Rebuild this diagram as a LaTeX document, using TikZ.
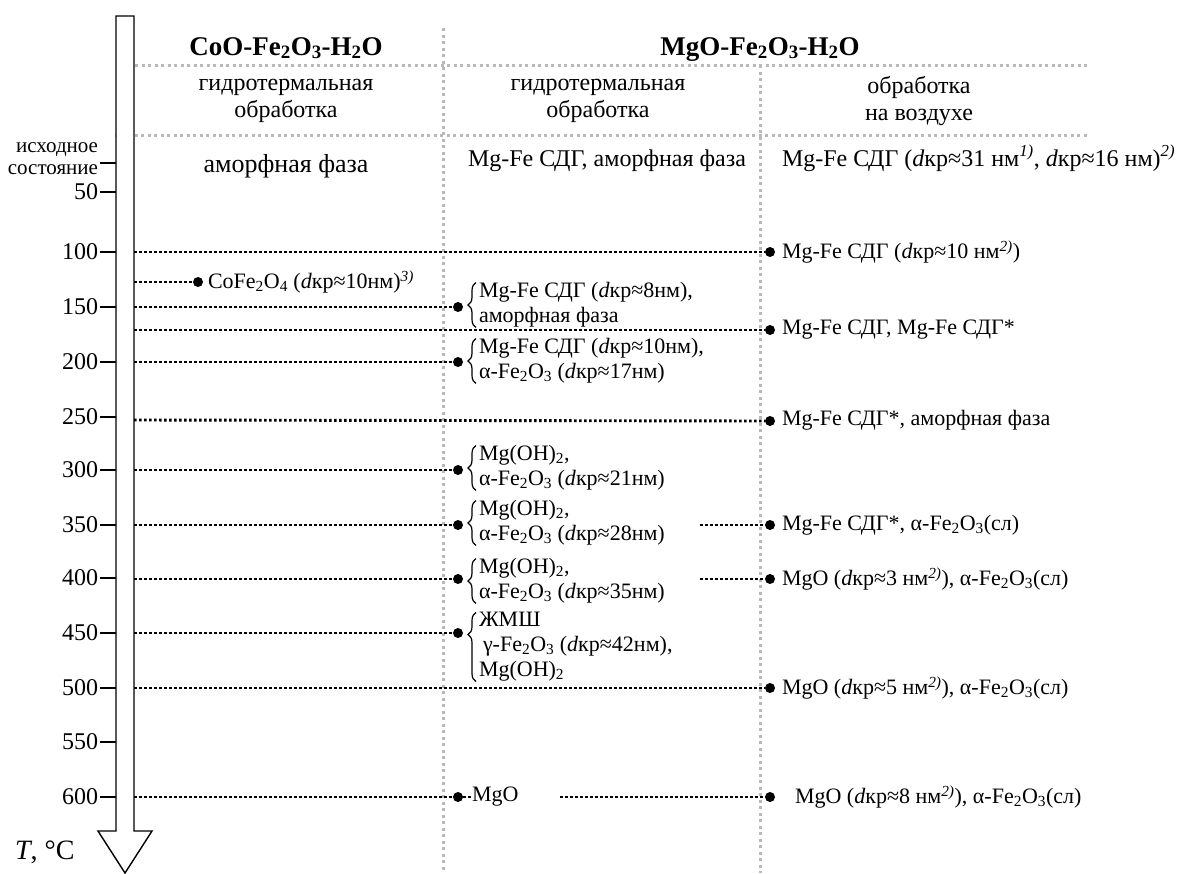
\documentclass[tikz,border=0pt]{standalone}
\usepackage{fontspec}
\setmainfont{Liberation Serif}
\usetikzlibrary{decorations.pathreplacing}
\newcommand{\mydk}{\textit{d}кр}
\newcommand{\myfe}{Fe\textsubscript{2}O\textsubscript{3}}
\newcommand{\mynt}[1]{\textsuperscript{\textit{#1)}}}
\begin{document}
\begin{tikzpicture}[x=1pt,y=-1pt,
  every node/.style={inner sep=0pt, outer sep=0pt},
  body/.style={font=\fontsize{22}{25}\selectfont},
  big/.style={font=\fontsize{24}{27}\selectfont},
  small/.style={font=\fontsize{21}{22}\selectfont},
  hdr/.style={font=\fontsize{27}{30}\selectfont\bfseries},
  greyline/.style={draw=gray!55, line width=3pt, dash pattern=on 3pt off 3.5pt},
  lvl/.style={line width=2.9pt, dash pattern=on 2.7pt off 2.3pt},
  pt/.style={circle, fill=black, minimum size=10pt},
  tickline/.style={line width=1.4pt},
  br/.style={decorate, decoration={brace, amplitude=8pt}, line width=1.2pt},
  txt/.style={body, anchor=west, align=left}]
\useasboundingbox (0,0) rectangle (1177,873);

% grey grid
\draw[greyline] (443,28) -- (443,873);
\draw[greyline] (760,65) -- (760,873);
\draw[greyline] (135,65) -- (1090,65);
\draw[greyline] (115,135) -- (1090,135);

% temperature arrow
\draw[line width=1.4pt, fill=white] (116,16) -- (134,16) -- (134,831) -- (152,831)
  -- (125,873) -- (98,831) -- (116,831) -- cycle;

% headers
\node[hdr, anchor=base] (h1) at (286,55) {CoO-\myfe-H\textsubscript{2}O};
\node[hdr, anchor=base] (h2) at (760,55) {MgO-\myfe-H\textsubscript{2}O};
\node[big, align=center] (m1) at (286,101) {гидротермальная\\обработка};
\node[big, align=center] (m2) at (598,101) {гидротермальная\\обработка};
\node[big, align=center] (m3) at (919,101) {обработка\\на воздухе};
\node[font=\fontsize{26}{29}\selectfont, anchor=base] (i1) at (286,172) {аморфная фаза};
\node[big, anchor=base west] (i2) at (468,166) {Mg-Fe СДГ, аморфная фаза};
\node[big, anchor=base west] (i3) at (782,166) {Mg-Fe СДГ (\mydk≈31 нм\mynt{1}, \mydk≈16 нм)\mynt{2}};

% axis labels and ticks
\node[small, align=right, anchor=east] (l0) at (98,159) {исходное\\состояние};
\draw[tickline] (100,163) -- (116,163);
\foreach \t/\y in {50/192,100/252,150/307,200/362,250/417,300/470,350/525,400/578,450/633,500/688,550/742,600/797}{
  \node[big, anchor=east] (n\t) at (98,\y) {\t};
  \draw[tickline] (100,\y) -- (116,\y);
}
\node[font=\fontsize{28}{32}\selectfont, anchor=west] (tl) at (15,852) {\textit{T}, °C};

% level start points on the shaft
\foreach \n/\y in {a/252,b/282,c/307,d/330,e/362,f/420,g/470,h/525,i/579,j/633,k/688,l/797}{
  \coordinate (s\n) at (134,\y);
}

% 100
\node[pt] (pa) at (770,252) {};
\node[txt] (ta) at (782,252) {Mg-Fe СДГ (\mydk≈10 нм\mynt{2})};
\draw[lvl] (sa) -- (pa);
% CoFe2O4
\node[pt] (pb) at (198,282) {};
\node[txt] (tb) at (208,282) {CoFe\textsubscript{2}O\textsubscript{4} (\mydk≈10нм)\mynt{3}};
\draw[lvl] (sb) -- (pb);
% 150
\node[pt] (pc) at (458,307) {};
\node[txt] (tc) at (479,305) {Mg-Fe СДГ (\mydk≈8нм),\\аморфная фаза};
\draw[lvl] (sc) -- (pc);
\draw[br] ([xshift=-3pt]tc.south west) -- ([xshift=-3pt]tc.north west);
% 175
\node[pt] (pd) at (770,330) {};
\node[txt] (td) at (782,330) {Mg-Fe СДГ, Mg-Fe СДГ*};
\draw[lvl] (sd) -- (pd);
% 200
\node[pt] (pe) at (458,362) {};
\node[txt] (te) at (479,361) {Mg-Fe СДГ (\mydk≈10нм),\\α-\myfe{} (\mydk≈17нм)};
\draw[lvl] (se) -- (pe);
\draw[br] ([xshift=-3pt]te.south west) -- ([xshift=-3pt]te.north west);
% 250
\node[pt] (pf) at (770,421) {};
\node[txt] (tf) at (782,420) {Mg-Fe СДГ*, аморфная фаза};
\draw[lvl] (sf) -- (pf);
% 300
\node[pt] (pg) at (458,470) {};
\node[txt] (tg) at (479,468) {Mg(OH)\textsubscript{2},\\α-\myfe{} (\mydk≈21нм)};
\draw[lvl] (sg) -- (pg);
\draw[br] ([xshift=-3pt]tg.south west) -- ([xshift=-3pt]tg.north west);
% 350
\node[pt] (ph) at (458,525) {};
\node[txt] (th) at (479,523) {Mg(OH)\textsubscript{2},\\α-\myfe{} (\mydk≈28нм)};
\draw[lvl] (sh) -- (ph);
\draw[br] ([xshift=-3pt]th.south west) -- ([xshift=-3pt]th.north west);
\coordinate (rh) at (700,525);
\node[pt] (qh) at (770,525) {};
\node[txt] (uh) at (782,525) {Mg-Fe СДГ*, α-\myfe(сл)};
\draw[lvl] (rh) -- (qh);
% 400
\node[pt] (pi) at (458,579) {};
\node[txt] (ti) at (479,581) {Mg(OH)\textsubscript{2},\\α-\myfe{} (\mydk≈35нм)};
\draw[lvl] (si) -- (pi);
\draw[br] ([xshift=-3pt]ti.south west) -- ([xshift=-3pt]ti.north west);
\coordinate (ri) at (700,579);
\node[pt] (qi) at (770,579) {};
\node[txt] (ui) at (782,579) {MgO (\mydk≈3 нм\mynt{2}), α-\myfe(сл)};
\draw[lvl] (ri) -- (qi);
% 450
\node[pt] (pj) at (458,633) {};
\node[txt] (tj) at (479,647) {ЖМШ\\\hspace{4pt}γ-\myfe{} (\mydk≈42нм),\\Mg(OH)\textsubscript{2}};
\draw[lvl] (sj) -- (pj);
\draw[decorate, decoration={brace, amplitude=8pt, aspect=0.68}, line width=1.2pt]
  ([xshift=-3pt]tj.south west) -- ([xshift=-3pt]tj.north west);
% 500
\node[pt] (pk) at (770,688) {};
\node[txt] (tk) at (782,688) {MgO (\mydk≈5 нм\mynt{2}), α-\myfe(сл)};
\draw[lvl] (sk) -- (pk);
% 600
\node[pt] (pl) at (458,797) {};
\node[txt] (tl6) at (472,797) {MgO};
\draw[lvl] (sl) -- (pl) -- (tl6.west);
\coordinate (rl) at (560,797);
\node[pt] (ql) at (770,797) {};
\node[txt] (ul) at (795,797) {MgO (\mydk≈8 нм\mynt{2}), α-\myfe(сл)};
\draw[lvl] (rl) -- (ql);
\end{tikzpicture}
\end{document}
